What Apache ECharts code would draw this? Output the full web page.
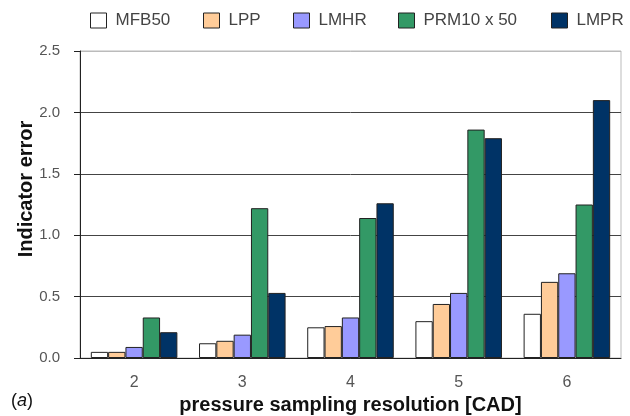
<!DOCTYPE html>
<html><head><meta charset="utf-8">
<script src="https://cdn.jsdelivr.net/npm/echarts@6/dist/echarts.min.js"></script>
<style>html,body{margin:0;padding:0;background:#fff}#c{width:630px;height:416px}</style>
</head><body><div id="c"></div>
<script>
var categories = ['2','3','4','5','6'];
var seriesNames = ['MFB50','LPP','LMHR','PRM10 x 50','LMPR'];
var MFB50 = [0.05, 0.12, 0.25, 0.30, 0.36];
var LPP = [0.05, 0.14, 0.26, 0.44, 0.62];
var LMHR = [0.09, 0.19, 0.33, 0.53, 0.69];
var PRM10x50 = [0.33, 1.22, 1.14, 1.86, 1.25];
var LMPR = [0.21, 0.53, 1.26, 1.79, 2.10];
var yTicks = [0, 0.5, 1.0, 1.5, 2.0, 2.5];
var colors = ['#ffffff','#ffcc99','#9999ff','#339966','#003366'];
var values = [MFB50, LPP, LMHR, PRM10x50, LMPR];
var legendLeft = [85, 198, 288, 393, 546];

var font = 'Liberation Sans, Arial, sans-serif';
var chart = echarts.init(document.getElementById('c'));
chart.setOption({
  animation: false,
  color: colors,
  legend: seriesNames.map(function(n, i){
    return {
      left: legendLeft[i], top: 7, itemWidth: 16, itemHeight: 15,
      icon: 'rect', selectedMode: false,
      textStyle: {fontFamily: font, fontSize: 17, color: '#444', padding: [11,0,0,4]},
      itemStyle: {borderColor: '#222', borderWidth: 1},
      data: [n]
    };
  }),
  grid: {left: 80, right: 9, top: 51, bottom: 58, show: true, borderColor: '#bbb', borderWidth: 1,
    outerBoundsMode: 'none', containLabel: false},
  xAxis: {
    type: 'category', data: categories,
    name: 'pressure sampling resolution [CAD]', nameLocation: 'middle', nameGap: 34,
    nameTextStyle: {fontFamily: font, fontSize: 20, fontWeight: 'bold', color: '#111'},
    axisLine: {lineStyle: {color: '#222'}},
    axisTick: {length: 6, lineStyle: {color: '#222'}},
    axisLabel: {fontFamily: font, fontSize: 16, color: '#555', margin: 17}
  },
  yAxis: {
    type: 'value', min: 0, max: 2.5, interval: 0.5,
    axisLine: {show: true, lineStyle: {color: '#222'}},
    axisTick: {show: true, length: 6, lineStyle: {color: '#222'}},
    axisLabel: {fontFamily: font, fontSize: 15, color: '#555', margin: 20,
      formatter: function(v){ return v.toFixed(1); }},
    splitLine: {lineStyle: {color: ['#444','#444','#444','#444','#444','#bbb']}}
  },
  series: values.map(function(v, i){
    return {
      name: seriesNames[i], type: 'bar', data: v,
      barGap: '0%', barCategoryGap: '20%',
      itemStyle: {color: colors[i], borderColor: '#222', borderWidth: 1}
    };
  }),
  graphic: [{
    type: 'text', x: 26, y: 189, rotation: Math.PI / 2,
    style: {
      text: 'Indicator error', fontFamily: font, fontSize: 20, fontWeight: 'bold',
      fill: '#111', align: 'center', verticalAlign: 'middle'
    }
  }, {
    type: 'text', left: 11, top: 392,
    style: {
      text: '({a|a})', fontFamily: font, fontSize: 18, fill: '#111',
      rich: {a: {fontStyle: 'italic', fontFamily: font, fontSize: 18, fill: '#111'}}
    }
  }]
});
</script></body></html>
